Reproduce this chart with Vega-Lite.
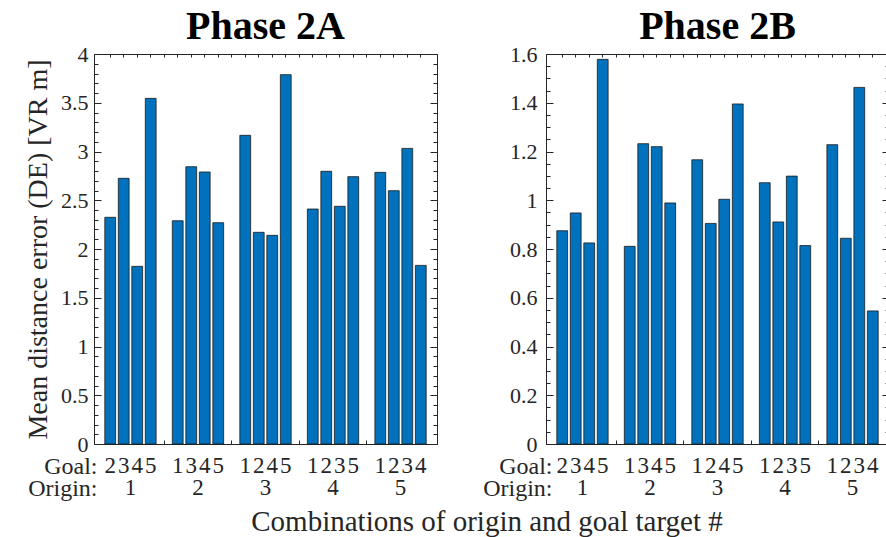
{
  "$schema": "https://vega.github.io/schema/vega-lite/v6.json",
  "padding": {"left": 24, "top": 6, "right": 0, "bottom": 5},
  "background": "white",
  "title": {"text": "Combinations of origin and goal target #", "orient": "bottom", "anchor": "middle", "dx": 30, "fontSize": 29, "fontWeight": "normal", "font": "Liberation Serif", "color": "#262626", "offset": 7, "baseline": "top"},
  "datasets": {
    "A": [
      {"origin": "1", "goal": "2", "slot": "1-2", "de": 2.325},
      {"origin": "1", "goal": "3", "slot": "1-3", "de": 2.725},
      {"origin": "1", "goal": "4", "slot": "1-4", "de": 1.822},
      {"origin": "1", "goal": "5", "slot": "1-5", "de": 3.545},
      {"origin": "2", "goal": "1", "slot": "2-1", "de": 2.29},
      {"origin": "2", "goal": "3", "slot": "2-3", "de": 2.844},
      {"origin": "2", "goal": "4", "slot": "2-4", "de": 2.79},
      {"origin": "2", "goal": "5", "slot": "2-5", "de": 2.27},
      {"origin": "3", "goal": "1", "slot": "3-1", "de": 3.166},
      {"origin": "3", "goal": "2", "slot": "3-2", "de": 2.171},
      {"origin": "3", "goal": "4", "slot": "3-4", "de": 2.14},
      {"origin": "3", "goal": "5", "slot": "3-5", "de": 3.788},
      {"origin": "4", "goal": "1", "slot": "4-1", "de": 2.41},
      {"origin": "4", "goal": "2", "slot": "4-2", "de": 2.797},
      {"origin": "4", "goal": "3", "slot": "4-3", "de": 2.438},
      {"origin": "4", "goal": "5", "slot": "4-5", "de": 2.742},
      {"origin": "5", "goal": "1", "slot": "5-1", "de": 2.786},
      {"origin": "5", "goal": "2", "slot": "5-2", "de": 2.598},
      {"origin": "5", "goal": "3", "slot": "5-3", "de": 3.032},
      {"origin": "5", "goal": "4", "slot": "5-4", "de": 1.832}
    ],
    "B": [
      {"origin": "1", "goal": "2", "slot": "1-2", "de": 0.875},
      {"origin": "1", "goal": "3", "slot": "1-3", "de": 0.948},
      {"origin": "1", "goal": "4", "slot": "1-4", "de": 0.825},
      {"origin": "1", "goal": "5", "slot": "1-5", "de": 1.578},
      {"origin": "2", "goal": "1", "slot": "2-1", "de": 0.811},
      {"origin": "2", "goal": "3", "slot": "2-3", "de": 1.232},
      {"origin": "2", "goal": "4", "slot": "2-4", "de": 1.22},
      {"origin": "2", "goal": "5", "slot": "2-5", "de": 0.989},
      {"origin": "3", "goal": "1", "slot": "3-1", "de": 1.166},
      {"origin": "3", "goal": "2", "slot": "3-2", "de": 0.905},
      {"origin": "3", "goal": "4", "slot": "3-4", "de": 1.004},
      {"origin": "3", "goal": "5", "slot": "3-5", "de": 1.395},
      {"origin": "4", "goal": "1", "slot": "4-1", "de": 1.072},
      {"origin": "4", "goal": "2", "slot": "4-2", "de": 0.911},
      {"origin": "4", "goal": "3", "slot": "4-3", "de": 1.099},
      {"origin": "4", "goal": "5", "slot": "4-5", "de": 0.814},
      {"origin": "5", "goal": "1", "slot": "5-1", "de": 1.228},
      {"origin": "5", "goal": "2", "slot": "5-2", "de": 0.844},
      {"origin": "5", "goal": "3", "slot": "5-3", "de": 1.463},
      {"origin": "5", "goal": "4", "slot": "5-4", "de": 0.546}
    ]
  },
  "spacing": 109,
  "bounds": "flush",
  "hconcat": [
    {
      "width": 343, "height": 390,
      "title": {"text": "Phase 2A", "fontSize": 40, "fontWeight": "bold", "font": "Liberation Serif", "color": "#000000", "baseline": "alphabetic", "offset": -36, "anchor": "middle"},
      "data": {"name": "A"},
      "layer": [
        {"mark": {"type": "bar", "fill": "#0072BD", "stroke": "#1a1a1a", "strokeWidth": 0.8},
         "encoding": {
           "x": {"field": "slot", "type": "nominal", "scale": {"type": "band", "domain": ["1-2","1-3","1-4","1-5","g1","2-1","2-3","2-4","2-5","g2","3-1","3-2","3-4","3-5","g3","4-1","4-2","4-3","4-5","g4","5-1","5-2","5-3","5-4"], "paddingInner": 0.2, "paddingOuter": 0.8},
                 "axis": {"orient": "bottom", "labelAngle": 0, "labelFontSize": 23, "labelExpr": "indexof(datum.value,'-')>0 ? split(datum.value,'-')[1] : ''", "tickSize": -4, "labelPadding": 14, "title": "Goal:", "titleAngle": 0, "titleAlign": "right", "titleBaseline": "top", "titleX": 3, "titleY": 10, "titleFontSize": 24}},
           "y": {"field": "de", "type": "quantitative", "stack": null, "scale": {"domain": [0, 4], "nice": false},
                 "axis": {"orient": "left", "values": [0,0.5,1,1.5,2,2.5,3,3.5,4], "format": "~g", "tickSize": -7, "labelPadding": 13, "title": "Mean distance error (DE) [VR m]", "titleFontSize": 28, "titlePadding": 8}}
         }},
        {"mark": {"type": "bar", "opacity": 0},
         "encoding": {
           "x": {"field": "origin", "type": "nominal", "scale": {"type": "band", "domain": ["1","2","3","4","5"], "paddingInner": 0, "paddingOuter": 0.04},
                 "axis": {"orient": "bottom", "offset": 22, "ticks": false, "labelFontSize": 23, "labelPadding": 10, "labelAngle": 0, "title": "Origin:", "titleAngle": 0, "titleAlign": "right", "titleBaseline": "top", "titleX": 3, "titleY": 10, "titleFontSize": 24}},
           "y": {"field": "de", "type": "quantitative", "stack": null, "axis": {"orient": "right", "values": [0,0.5,1,1.5,2,2.5,3,3.5,4], "labels": false, "tickSize": -7, "title": null}}
         }},
        {"mark": {"type": "bar", "opacity": 0},
         "encoding": {
           "x": {"field": "slot", "type": "nominal", "scale": {"type": "band", "domain": ["1-2","1-3","1-4","1-5","g1","2-1","2-3","2-4","2-5","g2","3-1","3-2","3-4","3-5","g3","4-1","4-2","4-3","4-5","g4","5-1","5-2","5-3","5-4"], "paddingInner": 0.2, "paddingOuter": 0.8},
                 "axis": {"orient": "top", "labels": false, "tickSize": -3, "title": null}},
           "y": {"field": "de", "type": "quantitative", "stack": null, "axis": {"orient": "left", "values": [0,0.1,0.2,0.3,0.4,0.5,0.6,0.7,0.8,0.9,1,1.1,1.2,1.3,1.4,1.5,1.6,1.7,1.8,1.9,2,2.1,2.2,2.3,2.4,2.5,2.6,2.7,2.8,2.9,3,3.1,3.2,3.3,3.4,3.5,3.6,3.7,3.8,3.9,4], "labels": false, "tickSize": -4, "title": null}}
         }},
        {"mark": {"type": "bar", "opacity": 0},
         "encoding": {
           "x": {"field": "slot", "type": "nominal", "scale": {"type": "band", "domain": ["1-2","1-3","1-4","1-5","g1","2-1","2-3","2-4","2-5","g2","3-1","3-2","3-4","3-5","g3","4-1","4-2","4-3","4-5","g4","5-1","5-2","5-3","5-4"], "paddingInner": 0.2, "paddingOuter": 0.8}, "axis": null},
           "y": {"field": "de", "type": "quantitative", "stack": null, "axis": {"orient": "right", "values": [0,0.1,0.2,0.3,0.4,0.5,0.6,0.7,0.8,0.9,1,1.1,1.2,1.3,1.4,1.5,1.6,1.7,1.8,1.9,2,2.1,2.2,2.3,2.4,2.5,2.6,2.7,2.8,2.9,3,3.1,3.2,3.3,3.4,3.5,3.6,3.7,3.8,3.9,4], "labels": false, "tickSize": -4, "title": null}}
         }}
      ],
      "resolve": {"scale": {"x": "independent"}, "axis": {"x": "independent", "y": "independent"}}
    },
    {
      "width": 343, "height": 390,
      "title": {"text": "Phase 2B", "fontSize": 40, "fontWeight": "bold", "font": "Liberation Serif", "color": "#000000", "baseline": "alphabetic", "offset": -36, "anchor": "middle"},
      "data": {"name": "B"},
      "layer": [
        {"mark": {"type": "bar", "fill": "#0072BD", "stroke": "#1a1a1a", "strokeWidth": 0.8},
         "encoding": {
           "x": {"field": "slot", "type": "nominal", "scale": {"type": "band", "domain": ["1-2","1-3","1-4","1-5","g1","2-1","2-3","2-4","2-5","g2","3-1","3-2","3-4","3-5","g3","4-1","4-2","4-3","4-5","g4","5-1","5-2","5-3","5-4"], "paddingInner": 0.2, "paddingOuter": 0.8},
                 "axis": {"orient": "bottom", "labelAngle": 0, "labelFontSize": 23, "labelExpr": "indexof(datum.value,'-')>0 ? split(datum.value,'-')[1] : ''", "tickSize": -4, "labelPadding": 14, "title": "Goal:", "titleAngle": 0, "titleAlign": "right", "titleBaseline": "top", "titleX": 6, "titleY": 10, "titleFontSize": 24}},
           "y": {"field": "de", "type": "quantitative", "stack": null, "scale": {"domain": [0, 1.6], "nice": false},
                 "axis": {"orient": "left", "values": [0,0.2,0.4,0.6,0.8,1,1.2,1.4,1.6], "format": "~g", "tickSize": -7, "labelPadding": 16, "title": null}}
         }},
        {"mark": {"type": "bar", "opacity": 0},
         "encoding": {
           "x": {"field": "origin", "type": "nominal", "scale": {"type": "band", "domain": ["1","2","3","4","5"], "paddingInner": 0, "paddingOuter": 0.04},
                 "axis": {"orient": "bottom", "offset": 22, "ticks": false, "labelFontSize": 23, "labelPadding": 10, "labelAngle": 0, "title": "Origin:", "titleAngle": 0, "titleAlign": "right", "titleBaseline": "top", "titleX": 6, "titleY": 10, "titleFontSize": 24}},
           "y": {"field": "de", "type": "quantitative", "stack": null, "axis": {"orient": "right", "values": [0,0.2,0.4,0.6,0.8,1,1.2,1.4,1.6], "labels": false, "tickSize": -7, "title": null}}
         }},
        {"mark": {"type": "bar", "opacity": 0},
         "encoding": {
           "x": {"field": "slot", "type": "nominal", "scale": {"type": "band", "domain": ["1-2","1-3","1-4","1-5","g1","2-1","2-3","2-4","2-5","g2","3-1","3-2","3-4","3-5","g3","4-1","4-2","4-3","4-5","g4","5-1","5-2","5-3","5-4"], "paddingInner": 0.2, "paddingOuter": 0.8},
                 "axis": {"orient": "top", "labels": false, "tickSize": -3, "title": null}},
           "y": {"field": "de", "type": "quantitative", "stack": null, "axis": {"orient": "left", "values": [0,0.05,0.1,0.15,0.2,0.25,0.3,0.35,0.4,0.45,0.5,0.55,0.6,0.65,0.7,0.75,0.8,0.85,0.9,0.95,1,1.05,1.1,1.15,1.2,1.25,1.3,1.35,1.4,1.45,1.5,1.55,1.6], "labels": false, "tickSize": -4, "title": null}}
         }},
        {"mark": {"type": "bar", "opacity": 0},
         "encoding": {
           "x": {"field": "slot", "type": "nominal", "scale": {"type": "band", "domain": ["1-2","1-3","1-4","1-5","g1","2-1","2-3","2-4","2-5","g2","3-1","3-2","3-4","3-5","g3","4-1","4-2","4-3","4-5","g4","5-1","5-2","5-3","5-4"], "paddingInner": 0.2, "paddingOuter": 0.8}, "axis": null},
           "y": {"field": "de", "type": "quantitative", "stack": null, "axis": {"orient": "right", "values": [0,0.05,0.1,0.15,0.2,0.25,0.3,0.35,0.4,0.45,0.5,0.55,0.6,0.65,0.7,0.75,0.8,0.85,0.9,0.95,1,1.05,1.1,1.15,1.2,1.25,1.3,1.35,1.4,1.45,1.5,1.55,1.6], "labels": false, "tickSize": -4, "title": null}}
         }}
      ],
      "resolve": {"scale": {"x": "independent"}, "axis": {"x": "independent", "y": "independent"}}
    }
  ],
  "config": {
    "font": "Liberation Serif",
    "view": {"stroke": "#262626", "strokeWidth": 1},
    "axis": {"labelFont": "Liberation Serif", "labelFontSize": 22, "labelColor": "#262626", "tickColor": "#262626", "tickWidth": 1, "domain": false, "grid": false, "minExtent": 0, "titleFont": "Liberation Serif", "titleFontWeight": "normal", "titleColor": "#262626"}
  }
}
